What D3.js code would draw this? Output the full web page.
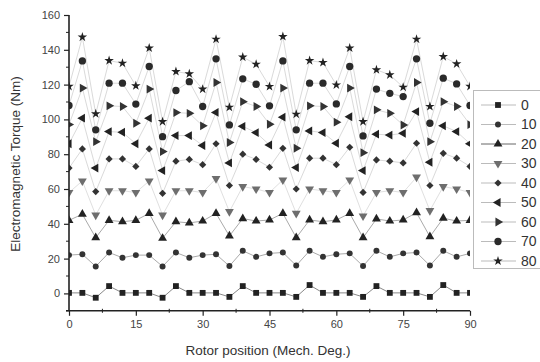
<!DOCTYPE html>
<html><head><meta charset="utf-8">
<script src="https://cdn.jsdelivr.net/npm/d3@7"></script>
<style>body{margin:0;background:#fff}svg{display:block}</style>
</head><body>
<svg id="c" width="540" height="362"></svg>
<script>
const positions = [0,3,6,9,12,15,18,21,24,27,30,33,36,39,42,45,48,51,54,57,60,63,66,69,72,75,78,81,84,87,90];
const seriesNames = ["0","10","20","30","40","50","60","70","80"];
const s0  = [0.3,0.3,-2.5,4.2,0.3,0.3,0.3,-2.5,4.2,0.3,0.3,0.3,-2,4.2,0.3,0.3,0.3,-2,4.8,0.3,0.3,0.3,-2,4.2,0.3,0.3,0.3,-2,4.8,0.3,0.3];
const s10 = [22,22.5,15.5,23.5,20.5,22,22,15.5,23.5,20.5,22,22.5,15.7,24.5,21,23,23.5,16,24.5,21,22.5,23,15.7,24.5,21,23,23.5,16,24.5,21,23];
const s20 = [42,45.5,32,42,41.2,42,46,31.7,41.2,40.5,41.6,46,33,43,41.6,42.2,46,32,42.2,41.2,42.2,46,32,42.8,41.6,42.2,46.4,32.6,43.2,41.6,42];
const s30 = [58,64.6,45,59,59,58,64.6,45,59,59,58,66,47,61.4,60,58,65.2,46,60,59,58,65.2,44.5,58,59,58,66.8,47.6,61.4,60,58];
const s40 = [72,83,58.5,77.3,77.3,73,83,57.5,76,77,74,86,62,80,77,72.5,83.4,60,77.7,77.7,74,84,58,76.7,76,75,86.3,62,80.5,77.7,73];
const s50 = [86,100.7,72,93,92.6,86,100.7,70.6,90.7,90.7,85,104,75,96,92.4,85.3,101.3,72.3,93.4,92.4,86.3,101.5,70.6,91.5,91,92,104.5,75.4,96.3,93,86];
const s60 = [97,118,87.2,107.8,107.4,97.8,117.4,81.5,103.9,103.5,96.3,121.2,86.7,110.2,107.4,97.2,118,83.4,107.8,107.4,98.4,118,80.9,105.5,103.5,96.8,121.2,87.2,110.2,107.4,97];
const s70 = [108,133.6,94,120.8,120.8,108.8,130.4,90.1,116.6,121.7,107.4,134.8,96.8,123.3,120.2,107.8,133.6,94,120.8,120.8,108.9,130.4,90.5,117.4,115,113.1,134.8,97.8,123.7,120.4,108];
const s80 = [119,147.3,103.2,133.8,132.3,119.3,141,98.7,127.5,126.2,117.4,146.1,107,135.8,131.7,118.9,147.6,103,133.8,132.7,119.8,141,98.7,128.5,125.6,118.5,146.1,107.4,136.1,131.9,119];
const xTicks = [0,15,30,45,60,75,90];
const yTicks = [0,20,40,60,80,100,120,140,160];

const allSeries = [s0,s10,s20,s30,s40,s50,s60,s70,s80];
const styles = [
  {sym:d3.symbolSquare,  size:34, rot:0,   fill:"#222", line:"#888"},
  {sym:d3.symbolCircle,  size:28, rot:0,   fill:"#333", line:"#aaa"},
  {sym:d3.symbolTriangle,size:34, rot:0,   fill:"#222", line:"#aaa"},
  {sym:d3.symbolTriangle,size:34, rot:180, fill:"#6e6e6e", line:"#e0e0e0"},
  {sym:d3.symbolSquare,  size:26, rot:45,  fill:"#333", line:"#dadada"},
  {sym:d3.symbolTriangle,size:34, rot:-90, fill:"#222", line:"#dadada"},
  {sym:d3.symbolTriangle,size:34, rot:90,  fill:"#333", line:"#dadada"},
  {sym:d3.symbolCircle,  size:42, rot:0,   fill:"#2a2a2a", line:"#dadada"},
  {sym:d3.symbolStar,    size:28, rot:0,   fill:"#222", line:"#dadada"}
];

const svg = d3.select("#c");
const x = d3.scaleLinear().domain([0,90]).range([69,470]);
const y = d3.scaleLinear().domain([-10,160]).range([310.8,15]);

svg.append("defs").append("clipPath").attr("id","plot")
  .append("rect").attr("x",69).attr("y",0).attr("width",401).attr("height",311);

const plot = svg.append("g").attr("clip-path","url(#plot)");
const line = d3.line().x((d,i)=>x(positions[i])).y(d=>y(d));

allSeries.forEach((s,k)=>{
  plot.append("path").attr("d",line(s)).attr("fill","none")
    .attr("stroke",styles[k].line).attr("stroke-width",1);
});
allSeries.forEach((s,k)=>{
  const st = styles[k];
  const sym = d3.symbol().type(st.sym).size(st.size);
  plot.append("g").selectAll("path").data(s).join("path")
    .attr("d",sym)
    .attr("transform",(d,i)=>`translate(${x(positions[i])},${y(d)}) rotate(${st.rot})`)
    .attr("fill",st.fill);
});

const axisCol = "#222";
const font = "Liberation Sans, Arial, sans-serif";
const gx = svg.append("g").attr("transform","translate(0,310.8)");
gx.call(d3.axisBottom(x).tickValues(xTicks).tickFormat(d3.format("d")).tickSize(5).tickPadding(4))
  .call(g=>g.select(".domain").attr("d","M66,0H470").attr("stroke-width",1.6));
gx.selectAll(".tick line").attr("stroke",axisCol).attr("stroke-width",1.2);
gx.selectAll("text").attr("font-family",font).attr("font-size",11).attr("fill","#444");
gx.append("g").selectAll("line").data(xTicks.slice(0,-1).map(v=>v+7.5)).join("line")
  .attr("x1",d=>x(d)).attr("x2",d=>x(d)).attr("y1",-2).attr("y2",2).attr("stroke",axisCol);

const gy = svg.append("g").attr("transform","translate(69,0)");
gy.call(d3.axisLeft(y).tickValues(yTicks).tickFormat(d3.format("d")).tickSize(5).tickPadding(4))
  .call(g=>g.select(".domain").attr("d","M0,15V310.8").attr("stroke-width",1.6));
gy.selectAll(".tick line").attr("stroke",axisCol).attr("stroke-width",1.2);
gy.selectAll("text").attr("font-family",font).attr("font-size",11).attr("fill","#444");
gy.append("g").selectAll("line").data(yTicks.slice(0,-1).map(v=>v+10).concat([-10])).join("line")
  .attr("x1",-3).attr("x2",0).attr("y1",d=>y(d)).attr("y2",d=>y(d)).attr("stroke",axisCol);
svg.selectAll(".domain").attr("stroke",axisCol);

svg.append("text").attr("x",268).attr("y",355).attr("text-anchor","middle")
  .attr("font-family",font).attr("font-size",13.5).attr("fill","#333")
  .text("Rotor position (Mech. Deg.)");
svg.append("text").attr("transform","translate(20,164) rotate(-90)").attr("text-anchor","middle")
  .attr("font-family",font).attr("font-size",13.5).attr("fill","#333")
  .text("Electromagnetic Torque (Nm)");

const lg = svg.append("g");
lg.append("rect").attr("x",473.5).attr("y",90.5).attr("width",80).attr("height",178)
  .attr("fill","#fff").attr("stroke","#bbb");
seriesNames.forEach((name,k)=>{
  const st = styles[k];
  const yy = 105 + k*19.5;
  lg.append("line").attr("x1",481).attr("x2",516).attr("y1",yy).attr("y2",yy)
    .attr("stroke",k===2?"#666":"#bbb").attr("stroke-width",1);
  lg.append("path").attr("d",d3.symbol().type(st.sym).size(st.size)())
    .attr("transform",`translate(498,${yy}) rotate(${st.rot})`).attr("fill",st.fill);
  lg.append("text").attr("x",521).attr("y",yy).attr("dy","0.35em")
    .attr("font-family",font).attr("font-size",14).attr("fill","#333")
    .text(name);
});
</script>
</body></html>
